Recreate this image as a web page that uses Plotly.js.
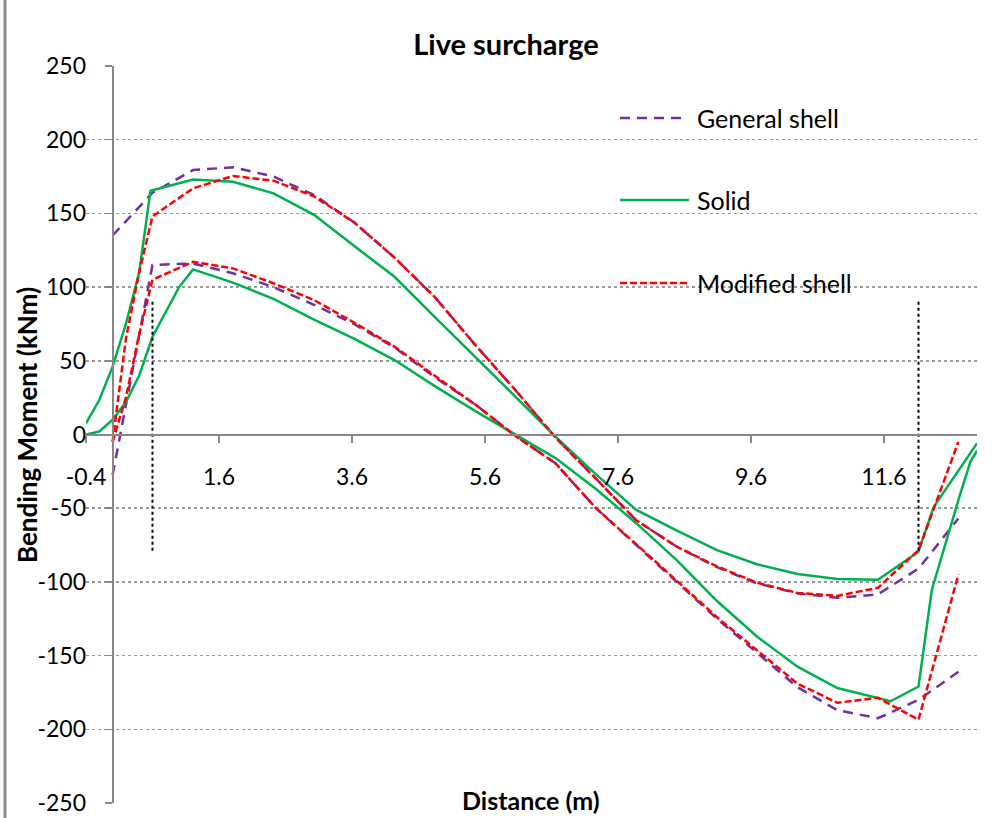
<!DOCTYPE html>
<html>
<head>
<meta charset="utf-8">
<script src="https://cdn.plot.ly/plotly-3.0.1.min.js"></script>
<style>html,body{margin:0;padding:0;background:#fff;}#chart{width:998px;height:818px;}</style>
</head>
<body>
<div id="chart"></div>
<script>
// ---- Data ----
var chartTitle = "Live surcharge";
var xTitle = "Distance (m)";
var yTitle = "Bending Moment (kNm)";
var seriesNames = ["General shell", "Solid", "Modified shell"];
var xTicks = [-0.4, 1.6, 3.6, 5.6, 7.6, 9.6, 11.6];
var xTickText = ["-0.4", "1.6", "3.6", "5.6", "7.6", "9.6", "11.6"];
var yTicks = [-250, -200, -150, -100, -50, 0, 50, 100, 150, 200, 250];
var yTickText = ["-250", "-200", "-150", "-100", "-50", "0", "50", "100", "150", "200", "250"];

// General shell
var genX = [0, 0.6, 1.21, 1.81, 2.42, 3.03, 3.63, 4.24, 4.84, 5.45, 6.06, 6.66, 7.27, 7.87, 8.48, 9.09, 9.69, 10.3, 10.9, 11.51, 12.12, 12.72];
var genUpper = [135, 164, 179.4, 181.3, 175, 162.5, 144, 120, 93.5, 61, 30, -2, -30, -58, -76, -90, -101, -107.7, -110.8, -108.5, -91, -57];
var genLower = [-27.5, 115, 116, 109.4, 100, 88, 75, 59, 39, 20.5, -1, -19.5, -50, -74.5, -100, -125, -148, -171.5, -187, -192.5, -180, -161];

// Modified shell
var modX = [0, 0.2, 0.4, 0.6, 1.21, 1.81, 2.42, 3.03, 3.63, 4.24, 4.84, 5.45, 6.06, 6.66, 7.27, 7.87, 8.48, 9.09, 9.69, 10.3, 10.9, 11.51, 12.12, 12.72];
var modUpper = [-5, 65, 110, 148, 167, 175.4, 172.2, 161.5, 144, 120, 93.5, 61, 30, -2, -30, -58, -76, -89.5, -100.5, -107.5, -109.5, -104, -78.5, -5];
var modLower = [-5, 25, 68, 105, 117.2, 112.7, 102.6, 91.2, 76, 59.6, 40, 20.5, -1, -19.5, -50, -74, -99, -124, -146.5, -169, -182, -178.6, -193.5, -95];

// Solid
var solUpperX = [-0.4, -0.2, 0, 0.2, 0.4, 0.57, 1.21, 1.81, 2.42, 3.03, 3.63, 4.24, 4.84, 5.45, 6.06, 6.66, 7.27, 7.87, 8.48, 9.09, 9.69, 10.3, 10.9, 11.51, 12.12, 12.35, 13.0];
var solUpper = [7.6, 23.4, 46, 75, 110, 165.4, 173, 171.5, 163.6, 149, 128, 107, 80, 53, 25.6, -1.5, -27, -51, -65, -78.4, -88, -94.6, -98, -98.5, -79.5, -49, -6];
var solLowerX = [-0.4, -0.2, 0, 0.2, 0.4, 0.6, 1.0, 1.21, 1.81, 2.42, 3.03, 3.63, 4.24, 4.84, 5.45, 6.06, 6.66, 7.27, 7.87, 8.48, 9.09, 9.69, 10.3, 10.9, 11.7, 12.12, 12.32, 12.73, 12.9, 13.0];
var solLower = [0, 2, 10, 22, 40, 66.3, 100, 112, 103, 92, 78, 65, 50.5, 33, 16, 0, -16, -37, -60, -85, -113, -137, -157.5, -172, -181, -171, -105.5, -43, -18.5, -11];

// Support markers (vertical dotted lines)
var supportX = [0.6, 12.12];
var supportTop = [90, 90];
var supportBottom = [-80, -80];

// ---- Styles ----
var FONT = "Lato, 'Open Sans', sans-serif";
var colors = {gen: "#7030A0", sol: "#00B050", mod: "#FF0000"};
var dashes = {gen: "10px,7px", sol: "solid", mod: "7px,3px"};

function line(x, y, key) {
  return {x: x, y: y, type: "scatter", mode: "lines", showlegend: false, hoverinfo: "x+y",
          line: {color: colors[key], width: 2.5, dash: dashes[key]}};
}

var supX = [], supY = [];
supportX.forEach(function (sx, i) {
  supX.push(sx, sx, null);
  supY.push(supportTop[i], supportBottom[i], null);
});

var traces = [
  line(genX, genUpper, "gen"),
  line(genX, genLower, "gen"),
  line(solUpperX, solUpper, "sol"),
  line(solLowerX, solLower, "sol"),
  line(modX, modUpper, "mod"),
  line(modX, modLower, "mod"),
  {x: supX, y: supY, type: "scatter", mode: "lines", showlegend: false, hoverinfo: "skip",
   line: {color: "#000", width: 2, dash: "dot"}}
];

// geometry helpers for manual legend (paper coords)
var L = 86, R = 21, T = 66, B = 15, W = 998, H = 818;
var pw = W - L - R, ph = H - T - B;
function px(p) { return (p - L) / pw; }
function py(p) { return (H - B - p) / ph; }

var legendItems = [
  {name: seriesNames[0], key: "gen", y: 118, x0: 620, x1: 684},
  {name: seriesNames[1], key: "sol", y: 200, x0: 620, x1: 689},
  {name: seriesNames[2], key: "mod", y: 283, x0: 620, x1: 689}
];

var shapes = [
  {type: "line", xref: "paper", yref: "paper", x0: px(5), x1: px(5), y0: py(0), y1: py(818),
   line: {color: "#8c8c8c", width: 3}}
];
var annotations = [
  {text: "<b>" + yTitle + "</b>", xref: "paper", yref: "paper", x: px(27), y: py(425),
   xanchor: "center", yanchor: "middle",
   textangle: -90, showarrow: false, font: {family: FONT, size: 26, color: "#000"}},
  {text: "<b>" + xTitle + "</b>", xref: "paper", yref: "paper", x: px(531), y: py(800),
   xanchor: "center", yanchor: "middle", showarrow: false, font: {family: FONT, size: 25, color: "#000"}}
];
legendItems.forEach(function (it) {
  shapes.push({type: "line", xref: "paper", yref: "paper", x0: px(it.x0), x1: px(it.x1),
               y0: py(it.y), y1: py(it.y),
               line: {color: colors[it.key], width: 2.5, dash: dashes[it.key]}});
  annotations.push({text: it.name, xref: "paper", yref: "paper", x: px(695), y: py(it.y),
                    xanchor: "left", yanchor: "middle", showarrow: false,
                    font: {family: FONT, size: 25, color: "#000"}});
});

var layout = {
  width: W, height: H,
  margin: {l: L, r: R, t: T, b: B},
  paper_bgcolor: "#fff", plot_bgcolor: "#fff",
  showlegend: false,
  title: {text: "<b>" + chartTitle + "</b>", x: 506 / W, xref: "container", xanchor: "center",
          y: 1 - 45 / H, yref: "container", yanchor: "middle",
          font: {family: FONT, size: 29, color: "#000"}},
  xaxis: {range: [-0.4, 13.0], tickvals: xTicks, ticktext: xTickText,
          anchor: "free", position: 0.5, showline: true, linecolor: "#878787", linewidth: 2,
          ticks: "outside", ticklen: 7, tickwidth: 1.5, tickcolor: "#878787",
          ticklabelstandoff: 15,
          showgrid: false, zeroline: false, fixedrange: true,
          tickfont: {family: FONT, size: 23, color: "#000"}},
  yaxis: {range: [-250, 250], tickvals: yTicks, ticktext: yTickText,
          anchor: "free", position: 0.4 / 13.4, showline: true, linecolor: "#878787", linewidth: 2,
          ticks: "outside", ticklen: 7, tickwidth: 1.5, tickcolor: "#878787",
          ticklabelstandoff: 14,
          showgrid: true, gridcolor: "#9a9a9a", griddash: "dot", gridwidth: 1.5,
          zeroline: false, fixedrange: true,
          tickfont: {family: FONT, size: 23, color: "#000"}},
  shapes: shapes,
  annotations: annotations
};

Plotly.newPlot("chart", traces, layout, {displayModeBar: false, staticPlot: true});
</script>
</body>
</html>
